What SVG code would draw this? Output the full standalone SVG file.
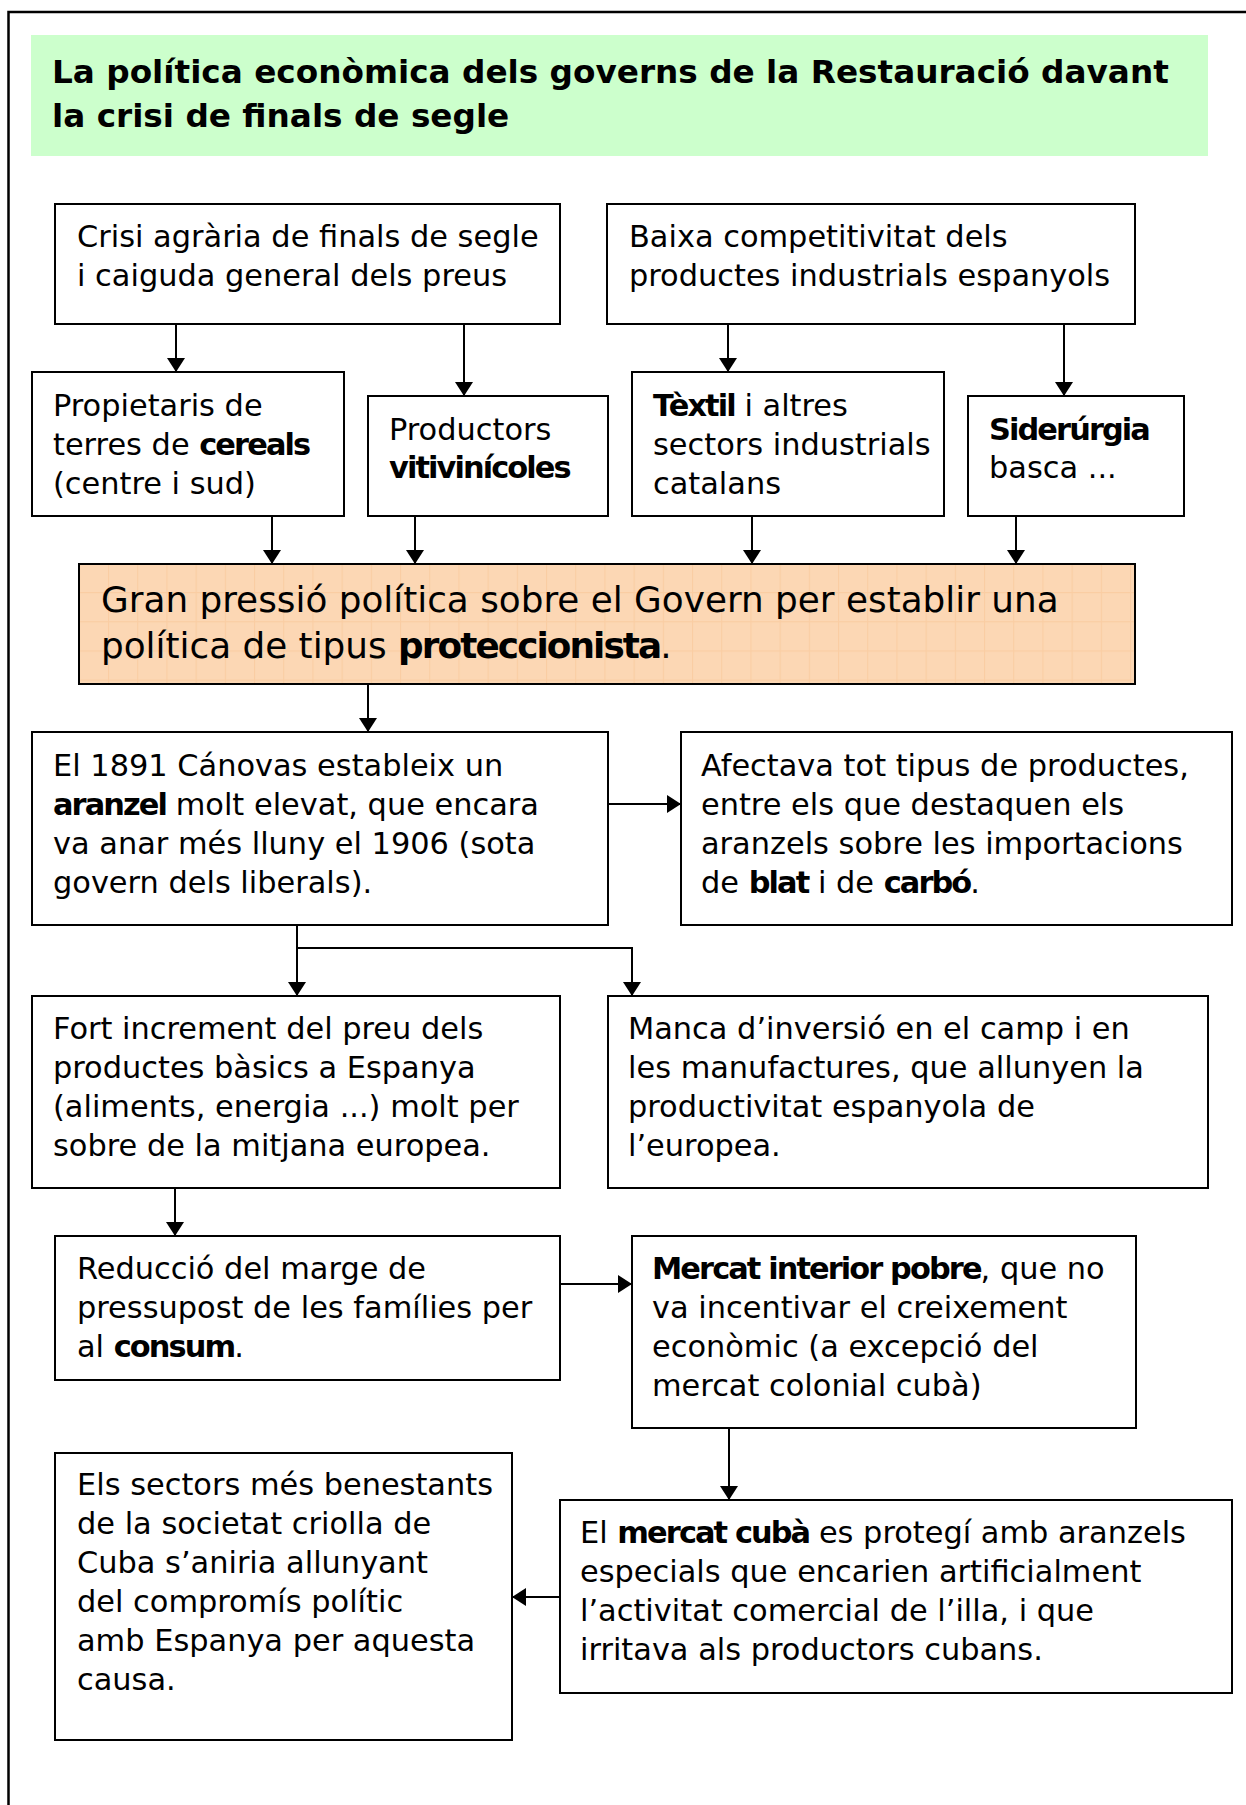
<svg xmlns="http://www.w3.org/2000/svg" width="1246" height="1805" viewBox="0 0 1246 1805">
  <style>
    .box { fill: #ffffff; stroke: #000000; stroke-width: 2; }
    .t { font-family: "DejaVu Sans", sans-serif; font-size: 30.4px; fill: #000000; }
    .big { font-size: 35.8px; }
    .b { font-weight: bold; letter-spacing: -1.9px; }
    .big .b { letter-spacing: -1.9px; }
    .title { font-family: "DejaVu Sans", sans-serif; font-size: 32.7px; font-weight: bold; fill: #000000; }
    .conn { fill: none; stroke: #000000; stroke-width: 2; }
  </style>
  <defs>
    <marker id="ah" markerUnits="userSpaceOnUse" markerWidth="14" markerHeight="18" viewBox="0 0 14 18" refX="14" refY="9" orient="auto">
      <path d="M0,0 L14,9 L0,18 Z" fill="#000000"/>
    </marker>
    <pattern id="grid" patternUnits="userSpaceOnUse" x="20.4" y="8" width="29.2" height="29.2">
      <rect width="29.2" height="29.2" fill="#fcd7b4"/>
      <path d="M0.5,0 V29.2 M0,0.5 H29.2" stroke="#f7c595" stroke-width="1.2" opacity="0.55"/>
    </pattern>
  </defs>

  <!-- outer frame -->
  <path d="M8.5,1805 V12 H1246" fill="none" stroke="#000000" stroke-width="2.5"/>

  <!-- title -->
  <g id="title">
    <rect x="31" y="35" width="1177" height="121" fill="#ccffcc"/>
    <text class="title" x="52" y="83">La política econòmica dels governs de la Restauració davant</text>
    <text class="title" x="52" y="127">la crisi de finals de segle</text>
  </g>

  <!-- connectors -->
  <g id="connectors">
    <line class="conn" x1="176" y1="324" x2="176" y2="372" marker-end="url(#ah)"/>
    <line class="conn" x1="464" y1="324" x2="464" y2="396" marker-end="url(#ah)"/>
    <line class="conn" x1="728" y1="324" x2="728" y2="372" marker-end="url(#ah)"/>
    <line class="conn" x1="1064" y1="324" x2="1064" y2="396" marker-end="url(#ah)"/>

    <line class="conn" x1="272" y1="516" x2="272" y2="564" marker-end="url(#ah)"/>
    <line class="conn" x1="415" y1="516" x2="415" y2="564" marker-end="url(#ah)"/>
    <line class="conn" x1="752" y1="516" x2="752" y2="564" marker-end="url(#ah)"/>
    <line class="conn" x1="1016" y1="516" x2="1016" y2="564" marker-end="url(#ah)"/>

    <line class="conn" x1="368" y1="684" x2="368" y2="732" marker-end="url(#ah)"/>
    <line class="conn" x1="608" y1="804" x2="681" y2="804" marker-end="url(#ah)"/>

    <line class="conn" x1="297" y1="925" x2="297" y2="996" marker-end="url(#ah)"/>
    <path class="conn" d="M297,948 H632 V996" marker-end="url(#ah)"/>

    <line class="conn" x1="175" y1="1188" x2="175" y2="1236" marker-end="url(#ah)"/>
    <line class="conn" x1="560" y1="1284" x2="632" y2="1284" marker-end="url(#ah)"/>
    <line class="conn" x1="729" y1="1428" x2="729" y2="1500" marker-end="url(#ah)"/>
    <line class="conn" x1="560" y1="1597" x2="512" y2="1597" marker-end="url(#ah)"/>
  </g>

  <!-- row 1 -->
  <g id="crisi">
    <rect class="box" x="55" y="204" width="505" height="120"/>
    <text class="t" x="77" y="247">Crisi agrària de finals de segle</text>
    <text class="t" x="77" y="286">i caiguda general dels preus</text>
  </g>
  <g id="baixa">
    <rect class="box" x="607" y="204" width="528" height="120"/>
    <text class="t" x="629" y="247">Baixa competitivitat dels</text>
    <text class="t" x="629" y="286">productes industrials espanyols</text>
  </g>

  <!-- row 2 -->
  <g id="propietaris">
    <rect class="box" x="32" y="372" width="312" height="144"/>
    <text class="t" x="53" y="416">Propietaris de</text>
    <text class="t" x="53" y="455">terres de <tspan class="b">cereals</tspan></text>
    <text class="t" x="53" y="494">(centre i sud)</text>
  </g>
  <g id="productors">
    <rect class="box" x="368" y="396" width="240" height="120"/>
    <text class="t" x="389" y="440">Productors</text>
    <text class="t" x="389" y="478"><tspan class="b">vitivinícoles</tspan></text>
  </g>
  <g id="textil">
    <rect class="box" x="632" y="372" width="312" height="144"/>
    <text class="t" x="653" y="416"><tspan class="b">Tèxtil</tspan> i altres</text>
    <text class="t" x="653" y="455">sectors industrials</text>
    <text class="t" x="653" y="494">catalans</text>
  </g>
  <g id="siderurgia">
    <rect class="box" x="968" y="396" width="216" height="120"/>
    <text class="t" x="989" y="440"><tspan class="b">Siderúrgia</tspan></text>
    <text class="t" x="989" y="478">basca ...</text>
  </g>

  <!-- pressure box -->
  <g id="pressio">
    <rect x="79" y="564" width="1056" height="120" fill="url(#grid)" stroke="#000000" stroke-width="2"/>
    <text class="t big" x="101" y="612">Gran pressió política sobre el Govern per establir una</text>
    <text class="t big" x="101" y="658">política de tipus <tspan class="b">proteccionista</tspan>.</text>
  </g>

  <!-- aranzel -->
  <g id="canovas">
    <rect class="box" x="32" y="732" width="576" height="193"/>
    <text class="t" x="53" y="776">El 1891 Cánovas estableix un</text>
    <text class="t" x="53" y="815"><tspan class="b">aranzel</tspan> molt elevat, que encara</text>
    <text class="t" x="53" y="854">va anar més lluny el 1906 (sota</text>
    <text class="t" x="53" y="893">govern dels liberals).</text>
  </g>
  <g id="afectava">
    <rect class="box" x="681" y="732" width="551" height="193"/>
    <text class="t" x="701" y="776">Afectava tot tipus de productes,</text>
    <text class="t" x="701" y="815">entre els que destaquen els</text>
    <text class="t" x="701" y="854">aranzels sobre les importacions</text>
    <text class="t" x="701" y="893">de <tspan class="b">blat</tspan> i de <tspan class="b">carbó</tspan>.</text>
  </g>

  <!-- consequences -->
  <g id="fort">
    <rect class="box" x="32" y="996" width="528" height="192"/>
    <text class="t" x="53" y="1039">Fort increment del preu dels</text>
    <text class="t" x="53" y="1078">productes bàsics a Espanya</text>
    <text class="t" x="53" y="1117">(aliments, energia ...) molt per</text>
    <text class="t" x="53" y="1156">sobre de la mitjana europea.</text>
  </g>
  <g id="manca">
    <rect class="box" x="608" y="996" width="600" height="192"/>
    <text class="t" x="628" y="1039">Manca d’inversió en el camp i en</text>
    <text class="t" x="628" y="1078">les manufactures, que allunyen la</text>
    <text class="t" x="628" y="1117">productivitat espanyola de</text>
    <text class="t" x="628" y="1156">l’europea.</text>
  </g>

  <g id="reduccio">
    <rect class="box" x="55" y="1236" width="505" height="144"/>
    <text class="t" x="77" y="1279">Reducció del marge de</text>
    <text class="t" x="77" y="1318">pressupost de les famílies per</text>
    <text class="t" x="77" y="1357">al <tspan class="b">consum</tspan>.</text>
  </g>
  <g id="mercat">
    <rect class="box" x="632" y="1236" width="504" height="192"/>
    <text class="t" x="652" y="1279"><tspan class="b">Mercat interior pobre</tspan>, que no</text>
    <text class="t" x="652" y="1318">va incentivar el creixement</text>
    <text class="t" x="652" y="1357">econòmic (a excepció del</text>
    <text class="t" x="652" y="1396">mercat colonial cubà)</text>
  </g>

  <g id="sectors">
    <rect class="box" x="55" y="1453" width="457" height="287"/>
    <text class="t" x="77" y="1495">Els sectors més benestants</text>
    <text class="t" x="77" y="1534">de la societat criolla de</text>
    <text class="t" x="77" y="1573">Cuba s’aniria allunyant</text>
    <text class="t" x="77" y="1612">del compromís polític</text>
    <text class="t" x="77" y="1651">amb Espanya per aquesta</text>
    <text class="t" x="77" y="1690">causa.</text>
  </g>
  <g id="cuba">
    <rect class="box" x="560" y="1500" width="672" height="193"/>
    <text class="t" x="580" y="1543">El <tspan class="b">mercat cubà</tspan> es protegí amb aranzels</text>
    <text class="t" x="580" y="1582">especials que encarien artificialment</text>
    <text class="t" x="580" y="1621">l’activitat comercial de l’illa, i que</text>
    <text class="t" x="580" y="1660">irritava als productors cubans.</text>
  </g>
</svg>
